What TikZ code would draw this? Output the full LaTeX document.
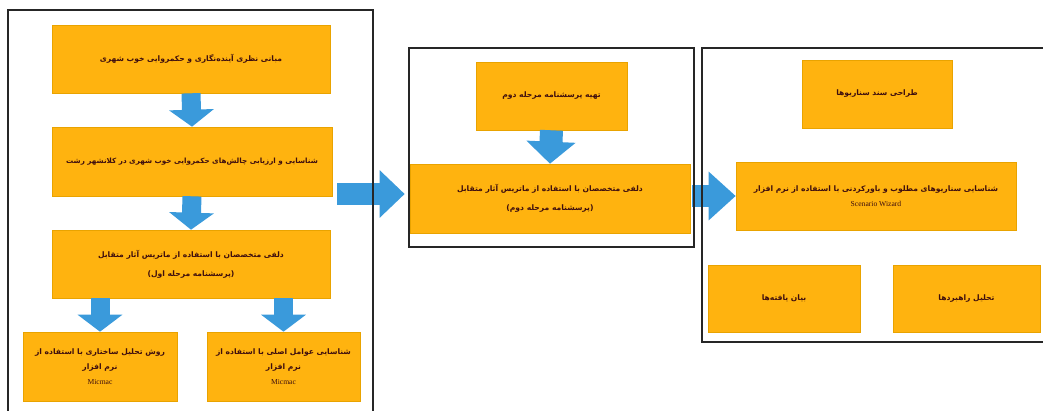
\documentclass[tikz,border=0pt]{standalone}
\usepackage{fontspec}
\setmainfont{Liberation Serif}
\newfontfamily\fa[Script=Arabic]{DejaVu Sans}
\TeXXeTstate=1
\usetikzlibrary{arrows.meta}
\definecolor{boxfill}{HTML}{FFB30F}
\definecolor{boxline}{HTML}{E9A300}
\definecolor{txt}{HTML}{3E0E0E}
\definecolor{arr}{HTML}{3A9ADB}
\newcommand{\rl}[1]{{\fa\bfseries\beginR #1\endR}}
\begin{document}
\begin{tikzpicture}[x=1pt,y=-1pt,
 stage/.style={fill=boxfill, draw=boxline, line width=0.6pt, inner sep=0pt, align=center, text=txt, font=\fontsize{7.6}{15}\selectfont},
 frame/.style={draw=black!85, line width=1.4pt},
 fat/.style={draw=arr, line width=19pt, -{Triangle[width=44pt,length=17pt]}}]
\useasboundingbox (0,0) rectangle (1043,411);
\fill[white] (0,0) rectangle (1043,411);
% left column
\node[stage, minimum width=278pt, minimum height=68pt] (b1) at (191,59) {\rl{مبانی نظری آینده‌نگاری و حکمروایی خوب شهری}};
\node[stage, minimum width=280pt, minimum height=69pt, font=\fontsize{7.2}{15}\selectfont] (b2) at (192,161.5) {\rl{شناسایی و ارزیابی چالش‌های حکمروایی خوب شهری در کلانشهر رشت}};
\node[stage, minimum width=278pt, minimum height=68pt] (b3) at (191,264) {\rl{دلفی متخصصان با استفاده از ماتریس آثار متقابل}\\[4pt]\rl{(پرسشنامه مرحله اول)}};
\node[stage, minimum width=154pt, minimum height=69pt] (b4) at (100,366.5) {\rl{روش تحلیل ساختاری با استفاده از}\\\rl{نرم افزار}\\Micmac};
\node[stage, minimum width=153pt, minimum height=69pt] (b5) at (283.5,366.5) {\rl{شناسایی عوامل اصلی با استفاده از}\\\rl{نرم افزار}\\Micmac};
% middle column
\node[stage, minimum width=151pt, minimum height=68pt] (b6) at (551.5,96) {\rl{تهیه پرسشنامه مرحله دوم}};
\node[stage, minimum width=280pt, minimum height=69pt] (b7) at (550,198.5) {\rl{دلفی متخصصان با استفاده از ماتریس آثار متقابل}\\[4pt]\rl{(پرسشنامه مرحله دوم)}};
% right column
\node[stage, minimum width=150pt, minimum height=68pt] (b8) at (877,94) {\rl{طراحی سند سناریوها}};
\node[stage, minimum width=280pt, minimum height=68pt] (b9) at (876,196) {\rl{شناسایی سناریوهای مطلوب و باورکردنی با استفاده از نرم افزار}\\Scenario Wizard};
\node[stage, minimum width=152pt, minimum height=67pt] (b10) at (784,298.5) {\rl{بیان یافته‌ها}};
\node[stage, minimum width=147pt, minimum height=67pt] (b11) at (966.5,298.5) {\rl{تحلیل راهبردها}};
% arrows
\draw[fat] (b1.south) -- (b2.north);
\draw[fat] (b2.south) -- (b3.north);
\draw[fat] (b4.north |- b3.south) -- (b4.north);
\draw[fat] (b5.north |- b3.south) -- (b5.north);
\draw[fat, line width=23pt, -{Triangle[width=48pt,length=22pt]}] (b6.south) -- (b7.north);
\coordinate (s1) at (337,194);
\coordinate (s2) at (692,196);
\draw[fat, line width=22pt, -{Triangle[width=46pt,length=25pt]}, shorten >=5pt] (s1) -- (b7.west |- s1);
\draw[fat, line width=22pt, -{Triangle[width=47pt,length=27pt]}] (s2) -- (b9.west);
% frames
\draw[frame] (8,415) -- (8,10) -- (373,10) -- (373,415);
\draw[frame] (409,48) rectangle (694,247);
\draw[frame] (1048,48) -- (702,48) -- (702,342) -- (1048,342);
\end{tikzpicture}
\end{document}
